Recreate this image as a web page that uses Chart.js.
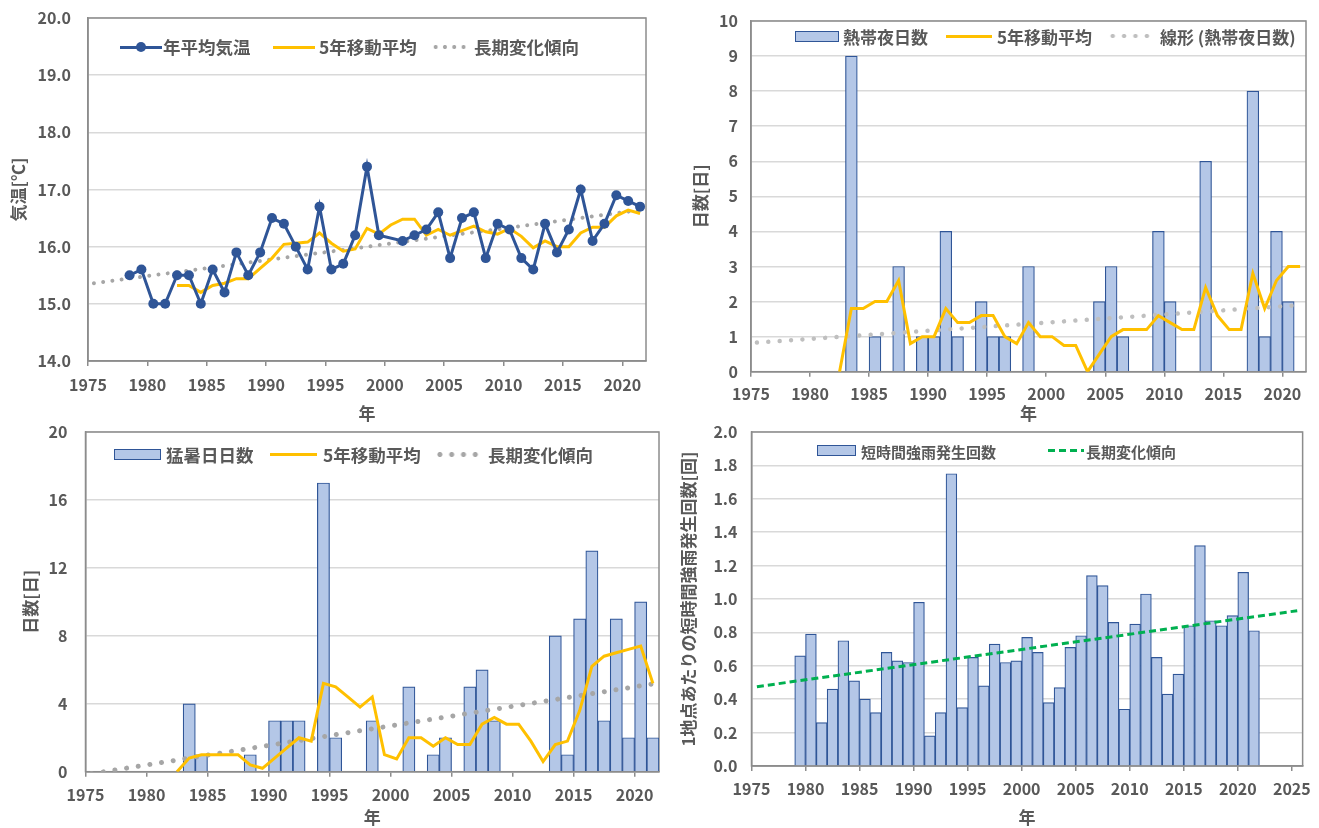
<!DOCTYPE html>
<html lang="ja">
<head>
<meta charset="utf-8">
<title>年平均気温・熱帯夜・猛暑日・短時間強雨の経年変化</title>
<script src="https://cdn.jsdelivr.net/npm/chart.js@4.4.1/dist/chart.umd.min.js"></script>
<style>
  html, body { margin: 0; padding: 0; background: #ffffff; }
  body { position: relative; width: 1319px; height: 828px; overflow: hidden;
         font-family: 'Noto Sans CJK JP', 'Noto Sans', sans-serif; }
  canvas { position: absolute; display: block; }
  .lg-sym { position: absolute; box-sizing: border-box; }
  .lg-dot { position: absolute; border-radius: 50%; }
  .lg-text { position: absolute; font-weight: 700; color: #595959; line-height: 1;
             white-space: nowrap; transform: translateY(-50%); }
</style>
</head>
<body>
<script>
// ---------------------------------------------------------------
// Annual series, 1978-2021 (2000 has no observation)
// ---------------------------------------------------------------
const years = [1978, 1979, 1980, 1981, 1982, 1983, 1984, 1985, 1986, 1987,
               1988, 1989, 1990, 1991, 1992, 1993, 1994, 1995, 1996, 1997,
               1998, 1999, 2000, 2001, 2002, 2003, 2004, 2005, 2006, 2007,
               2008, 2009, 2010, 2011, 2012, 2013, 2014, 2015, 2016, 2017,
               2018, 2019, 2020, 2021];

// 年平均気温 [℃]
const annualMeanTemp = [15.5, 15.6, 15.0, 15.0, 15.5, 15.5, 15.0, 15.6, 15.2, 15.9,
                        15.5, 15.9, 16.5, 16.4, 16.0, 15.6, 16.7, 15.6, 15.7, 16.2,
                        17.4, 16.2, null, 16.1, 16.2, 16.3, 16.6, 15.8, 16.5, 16.6,
                        15.8, 16.4, 16.3, 15.8, 15.6, 16.4, 15.9, 16.3, 17.0, 16.1,
                        16.4, 16.9, 16.8, 16.7];

// 熱帯夜日数 [日]
const tropicalNights = [0, 0, 0, 0, 0, 9, 0, 1, 0, 3,
                        0, 1, 1, 4, 1, 0, 2, 1, 1, 0,
                        3, 0, null, 0, 0, 0, 2, 3, 1, 0,
                        0, 4, 2, 0, 0, 6, 0, 0, 0, 8,
                        1, 4, 2, 0];

// 猛暑日日数 [日]
const extremeHeatDays = [0, 0, 0, 0, 0, 4, 1, 0, 0, 0,
                         1, 0, 3, 3, 3, 0, 17, 2, 0, 0,
                         3, 0, null, 5, 0, 1, 2, 0, 5, 6,
                         3, 0, 0, 0, 0, 8, 1, 9, 13, 3,
                         9, 2, 10, 2];

// 5年移動平均 (1982-2021)
const avgYears = [1982, 1983, 1984, 1985, 1986, 1987, 1988, 1989, 1990, 1991,
                  1992, 1993, 1994, 1995, 1996, 1997, 1998, 1999, 2000, 2001,
                  2002, 2003, 2004, 2005, 2006, 2007, 2008, 2009, 2010, 2011,
                  2012, 2013, 2014, 2015, 2016, 2017, 2018, 2019, 2020, 2021];
const tempMovingAvg = [15.32, 15.32, 15.20, 15.32, 15.36, 15.44, 15.44, 15.62, 15.80, 16.04,
                       16.06, 16.08, 16.24, 16.06, 15.92, 15.96, 16.32, 16.22, 16.38, 16.48,
                       16.48, 16.20, 16.30, 16.20, 16.28, 16.36, 16.26, 16.22, 16.32, 16.18,
                       15.98, 16.10, 16.00, 16.00, 16.24, 16.34, 16.34, 16.54, 16.64, 16.58];
const tropicalNightsAvg = [0, 1.8, 1.8, 2.0, 2.0, 2.6, 0.8, 1.0, 1.0, 1.8,
                           1.4, 1.4, 1.6, 1.6, 1.0, 0.8, 1.4, 1.0, 1.0, 0.75,
                           0.75, 0, 0.5, 1.0, 1.2, 1.2, 1.2, 1.6, 1.4, 1.2,
                           1.2, 2.4, 1.6, 1.2, 1.2, 2.8, 1.8, 2.6, 3.0, 3.0];
const extremeHeatAvg = [0, 0.8, 1.0, 1.0, 1.0, 1.0, 0.4, 0.2, 0.8, 1.4,
                        2.0, 1.8, 5.2, 5.0, 4.4, 3.8, 4.4, 1.0, 0.75, 2.0,
                        2.0, 1.5, 2.0, 1.6, 1.6, 2.8, 3.2, 2.8, 2.8, 1.8,
                        0.6, 1.6, 1.8, 3.6, 6.2, 6.8, 7.0, 7.2, 7.4, 5.2];

// 長期変化傾向 (end points of the fitted straight line)
const trendYears = [1975, 2021];
const tempTrend = [15.36, 16.64];
const tropicalNightsTrend = [0.83, 1.90];
const extremeHeatTrend = [-0.12, 5.17];

// 1地点あたりの短時間強雨発生回数 [回], 1979-2021
const rainYears = [1979, 1980, 1981, 1982, 1983, 1984, 1985, 1986, 1987, 1988,
                   1989, 1990, 1991, 1992, 1993, 1994, 1995, 1996, 1997, 1998,
                   1999, 2000, 2001, 2002, 2003, 2004, 2005, 2006, 2007, 2008,
                   2009, 2010, 2011, 2012, 2013, 2014, 2015, 2016, 2017, 2018,
                   2019, 2020, 2021];
const heavyRainCount = [0.66, 0.79, 0.26, 0.46, 0.75, 0.51, 0.40, 0.32, 0.68, 0.63,
                        0.62, 0.98, 0.18, 0.32, 1.75, 0.35, 0.65, 0.48, 0.73, 0.62,
                        0.63, 0.77, 0.68, 0.38, 0.47, 0.71, 0.78, 1.14, 1.08, 0.86,
                        0.34, 0.85, 1.03, 0.65, 0.43, 0.55, 0.84, 1.32, 0.87, 0.84,
                        0.90, 1.16, 0.81];
const rainTrendYears = [1975, 2025];
const heavyRainTrend = [0.475, 0.93];

// ---------------------------------------------------------------
// Styling
// ---------------------------------------------------------------
const INK = '#595959';
const FRAME = '#8c8c8c';
const GRID = '#d9d9d9';
const BLUE = '#2f5597';
const BAR_FILL = '#b4c7e7';
const GOLD = '#ffc000';
const GREEN = '#00b050';

Chart.defaults.font.family = "'Noto Sans CJK JP', 'Noto Sans', sans-serif";
Chart.defaults.font.weight = 'bold';
Chart.defaults.color = INK;

// Annual values sit in the middle of their year on the year axis.
const asPoints = (xs, ys) => xs.map((yr, i) => ({ x: yr + 0.5, y: ys[i] }));

// Grey box around the plotting area
const plotFrame = {
  id: 'plotFrame',
  beforeDatasetsDraw(chart) {
    const { ctx, chartArea: a } = chart;
    ctx.save();
    ctx.strokeStyle = FRAME;
    ctx.lineWidth = 1.5;
    ctx.strokeRect(a.left, a.top, a.right - a.left, a.bottom - a.top);
    ctx.restore();
  }
};

function xAxis({ max, height, pad }) {
  return {
    type: 'linear', position: 'bottom', min: 1975, max, offset: false,
    afterFit: s => { s.height = height; },
    grid: { display: true, offset: false, drawOnChartArea: false, drawTicks: true,
            tickLength: 5, color: FRAME, lineWidth: 1.5 },
    border: { display: true, color: FRAME, width: 1.5 },
    ticks: { stepSize: 5, includeBounds: false, autoSkip: false, maxRotation: 0, minRotation: 0,
             padding: pad, color: INK, font: { size: 16, weight: 'bold' },
             callback: v => String(v) },
    title: { display: true, text: '年', color: INK, font: { size: 17, weight: 'bold' },
             padding: { top: 0, bottom: 0 } }
  };
}

// The gap between the value labels and the axis is made with an invisible tick mark,
// so the label padding does not push the plotting area down.
function yAxis({ min, max, step, digits, width, gap, title, titlePad, titleSize }) {
  return {
    type: 'linear', position: 'left', min, max,
    afterFit: s => { s.width = width; },
    grid: { color: GRID, lineWidth: 1.5, drawTicks: true, tickLength: gap - 2,
            tickColor: 'rgba(0,0,0,0)' },
    border: { display: true, color: FRAME, width: 1.5 },
    ticks: { stepSize: step, includeBounds: false, padding: 2, color: INK,
             font: { size: 16, weight: 'bold' }, callback: v => v.toFixed(digits) },
    title: { display: true, text: title, color: INK,
             font: { size: titleSize || 17, weight: 'bold' },
             padding: { top: titlePad, bottom: 0 } }
  };
}

function mountCanvas({ left, top, w, h }) {
  const c = document.createElement('canvas');
  c.width = w; c.height = h;
  c.style.left = left + 'px'; c.style.top = top + 'px';
  c.style.width = w + 'px'; c.style.height = h + 'px';
  document.body.appendChild(c);
  return c;
}

// HTML legend built from the chart's own datasets
function drawLegend(chart, spec) {
  const cy = spec.cy;
  chart.data.datasets.forEach((ds, i) => {
    const it = spec.items[i];
    const sym = document.createElement('div');
    sym.className = 'lg-sym';
    if (it.kind === 'box') {
      sym.style.left = it.sx + 'px';
      sym.style.width = it.sw + 'px';
      sym.style.height = '11px';
      sym.style.top = (cy - 5.5) + 'px';
      sym.style.background = ds.backgroundColor;
      sym.style.border = '1.5px solid ' + ds.borderColor;
    } else if (it.kind === 'line' || it.kind === 'marker') {
      const bw = ds.borderWidth;
      sym.style.left = it.sx + 'px';
      sym.style.width = it.sw + 'px';
      sym.style.height = bw + 'px';
      sym.style.top = (cy - bw / 2) + 'px';
      sym.style.background = ds.borderColor;
      if (it.kind === 'marker') {
        const r = ds.pointRadius;
        const dot = document.createElement('div');
        dot.className = 'lg-dot';
        dot.style.width = dot.style.height = (2 * r) + 'px';
        dot.style.left = (it.sw / 2 - r) + 'px';
        dot.style.top = (bw / 2 - r) + 'px';
        dot.style.background = ds.pointBackgroundColor;
        sym.appendChild(dot);
      }
    } else if (it.kind === 'dots') {
      const d = ds.borderWidth, gap = ds.borderDash[1];
      sym.style.left = (it.sx + d / 2 - gap / 2) + 'px';
      sym.style.width = (4 * gap) + 'px';
      sym.style.height = d + 'px';
      sym.style.top = (cy - d / 2) + 'px';
      sym.style.backgroundImage =
        `radial-gradient(circle, ${ds.borderColor} ${d / 2 - 0.4}px, rgba(255,255,255,0) ${d / 2 + 0.4}px)`;
      sym.style.backgroundSize = `${gap}px ${d}px`;
      sym.style.backgroundRepeat = 'repeat-x';
    } else if (it.kind === 'dashes') {
      const bw = ds.borderWidth, [on, off] = ds.borderDash;
      sym.style.left = it.sx + 'px';
      sym.style.width = it.sw + 'px';
      sym.style.height = bw + 'px';
      sym.style.top = (cy - bw / 2) + 'px';
      sym.style.backgroundImage =
        `repeating-linear-gradient(90deg, ${ds.borderColor} 0 ${on}px, rgba(255,255,255,0) ${on}px ${on + off}px)`;
    }
    document.body.appendChild(sym);

    const txt = document.createElement('div');
    txt.className = 'lg-text';
    txt.textContent = ds.label;
    txt.style.left = it.tx + 'px';
    txt.style.top = cy + 'px';
    txt.style.fontSize = spec.size + 'px';
    document.body.appendChild(txt);
  });
}

function makePanel(cfg) {
  const chart = new Chart(mountCanvas(cfg.box), {
    type: cfg.type,
    data: { datasets: cfg.datasets },
    options: {
      responsive: false, animation: false, devicePixelRatio: 1, events: [],
      layout: { padding: cfg.padding },
      scales: { x: xAxis(cfg.x), y: yAxis(cfg.y) },
      plugins: { legend: { display: false }, tooltip: { enabled: false } }
    },
    plugins: [plotFrame]
  });
  drawLegend(chart, cfg.legend);
  return chart;
}

const barStyle = {
  type: 'bar', backgroundColor: BAR_FILL, borderColor: BLUE, borderWidth: 1.2,
  barPercentage: 1, categoryPercentage: 1
};

// ---- 年平均気温 ----
makePanel({
  type: 'line',
  box: { left: 0, top: 0, w: 660, h: 425 },
  padding: { left: 0, top: 18, right: 14, bottom: 1 },
  x: { max: 2022, height: 63, pad: 9 },
  y: { min: 14, max: 20, step: 1, digits: 1, width: 88, gap: 17, title: '気温[℃]', titlePad: 8 },
  datasets: [
    { type: 'line', label: '年平均気温', data: asPoints(years, annualMeanTemp),
      borderColor: BLUE, backgroundColor: BLUE, borderWidth: 3, tension: 0, spanGaps: true,
      pointRadius: 5, pointBackgroundColor: BLUE, pointBorderColor: BLUE, pointBorderWidth: 0 },
    { type: 'line', label: '5年移動平均', data: asPoints(avgYears, tempMovingAvg),
      borderColor: GOLD, borderWidth: 3, tension: 0, pointRadius: 0 },
    { type: 'line', label: '長期変化傾向', data: asPoints(trendYears, tempTrend),
      borderColor: '#a6a6a6', borderWidth: 4, borderDash: [0.001, 9.3], borderCapStyle: 'round',
      pointRadius: 0 }
  ],
  legend: { cy: 47, size: 17.5, items: [
    { kind: 'marker', sx: 120, sw: 42, tx: 163 },
    { kind: 'line', sx: 273, sw: 42, tx: 319 },
    { kind: 'dots', sx: 434, tx: 474 }
  ] }
});

// ---- 熱帯夜日数 ----
makePanel({
  type: 'bar',
  box: { left: 660, top: 0, w: 659, h: 425 },
  padding: { left: 0, top: 21, right: 13, bottom: 1 },
  x: { max: 2022, height: 52.3, pad: 8 },
  y: { min: 0, max: 10, step: 1, digits: 0, width: 91, gap: 13, title: '日数[日]', titlePad: 30 },
  datasets: [
    { ...barStyle, label: '熱帯夜日数', data: asPoints(years, tropicalNights), order: 3 },
    { type: 'line', label: '5年移動平均', data: asPoints(avgYears, tropicalNightsAvg),
      borderColor: GOLD, borderWidth: 3, tension: 0, pointRadius: 0, order: 1 },
    { type: 'line', label: '線形 (熱帯夜日数)', data: asPoints(trendYears, tropicalNightsTrend),
      borderColor: '#bfbfbf', borderWidth: 4.5, borderDash: [0.001, 11.4], borderCapStyle: 'round',
      pointRadius: 0, order: 2 }
  ],
  legend: { cy: 36, size: 17, items: [
    { kind: 'box', sx: 795, sw: 44, tx: 843 },
    { kind: 'line', sx: 946, sw: 46, tx: 997 },
    { kind: 'dots', sx: 1110, tx: 1160 }
  ] }
});

// ---- 猛暑日日数 ----
makePanel({
  type: 'bar',
  box: { left: 0, top: 420, w: 665, h: 408 },
  padding: { left: 0, top: 12, right: 6, bottom: 0 },
  x: { max: 2022, height: 56.3, pad: 9 },
  y: { min: 0, max: 20, step: 4, digits: 0, width: 85.5, gap: 18, title: '日数[日]', titlePad: 20 },
  datasets: [
    { ...barStyle, label: '猛暑日日数', data: asPoints(years, extremeHeatDays), order: 3 },
    { type: 'line', label: '5年移動平均', data: asPoints(avgYears, extremeHeatAvg),
      borderColor: GOLD, borderWidth: 3, tension: 0, pointRadius: 0, order: 1 },
    { type: 'line', label: '長期変化傾向', data: asPoints(trendYears, extremeHeatTrend),
      borderColor: '#a6a6a6', borderWidth: 5, borderDash: [0.001, 11.8], borderCapStyle: 'round',
      pointRadius: 0, order: 2 }
  ],
  legend: { cy: 454.5, size: 17.5, items: [
    { kind: 'box', sx: 114, sw: 47, tx: 166 },
    { kind: 'line', sx: 270, sw: 47, tx: 323 },
    { kind: 'dots', sx: 437, tx: 488 }
  ] }
});

// ---- 短時間強雨発生回数 ----
makePanel({
  type: 'bar',
  box: { left: 665, top: 420, w: 654, h: 408 },
  padding: { left: 0, top: 12, right: 15, bottom: 0 },
  x: { max: 2026, height: 62, pad: 8 },
  y: { min: 0, max: 2, step: 0.2, digits: 1, width: 86.5, gap: 14,
       title: '1地点あたりの短時間強雨発生回数[回]', titlePad: 13 },
  datasets: [
    { ...barStyle, label: '短時間強雨発生回数', data: asPoints(rainYears, heavyRainCount), order: 2 },
    { type: 'line', label: '長期変化傾向', data: asPoints(rainTrendYears, heavyRainTrend),
      borderColor: GREEN, borderWidth: 3, borderDash: [7, 4], tension: 0, pointRadius: 0, order: 1 }
  ],
  legend: { cy: 450.5, size: 15, items: [
    { kind: 'box', sx: 817, sw: 39, tx: 861 },
    { kind: 'dashes', sx: 1048, sw: 36, tx: 1086 }
  ] }
});
</script>
</body>
</html>
